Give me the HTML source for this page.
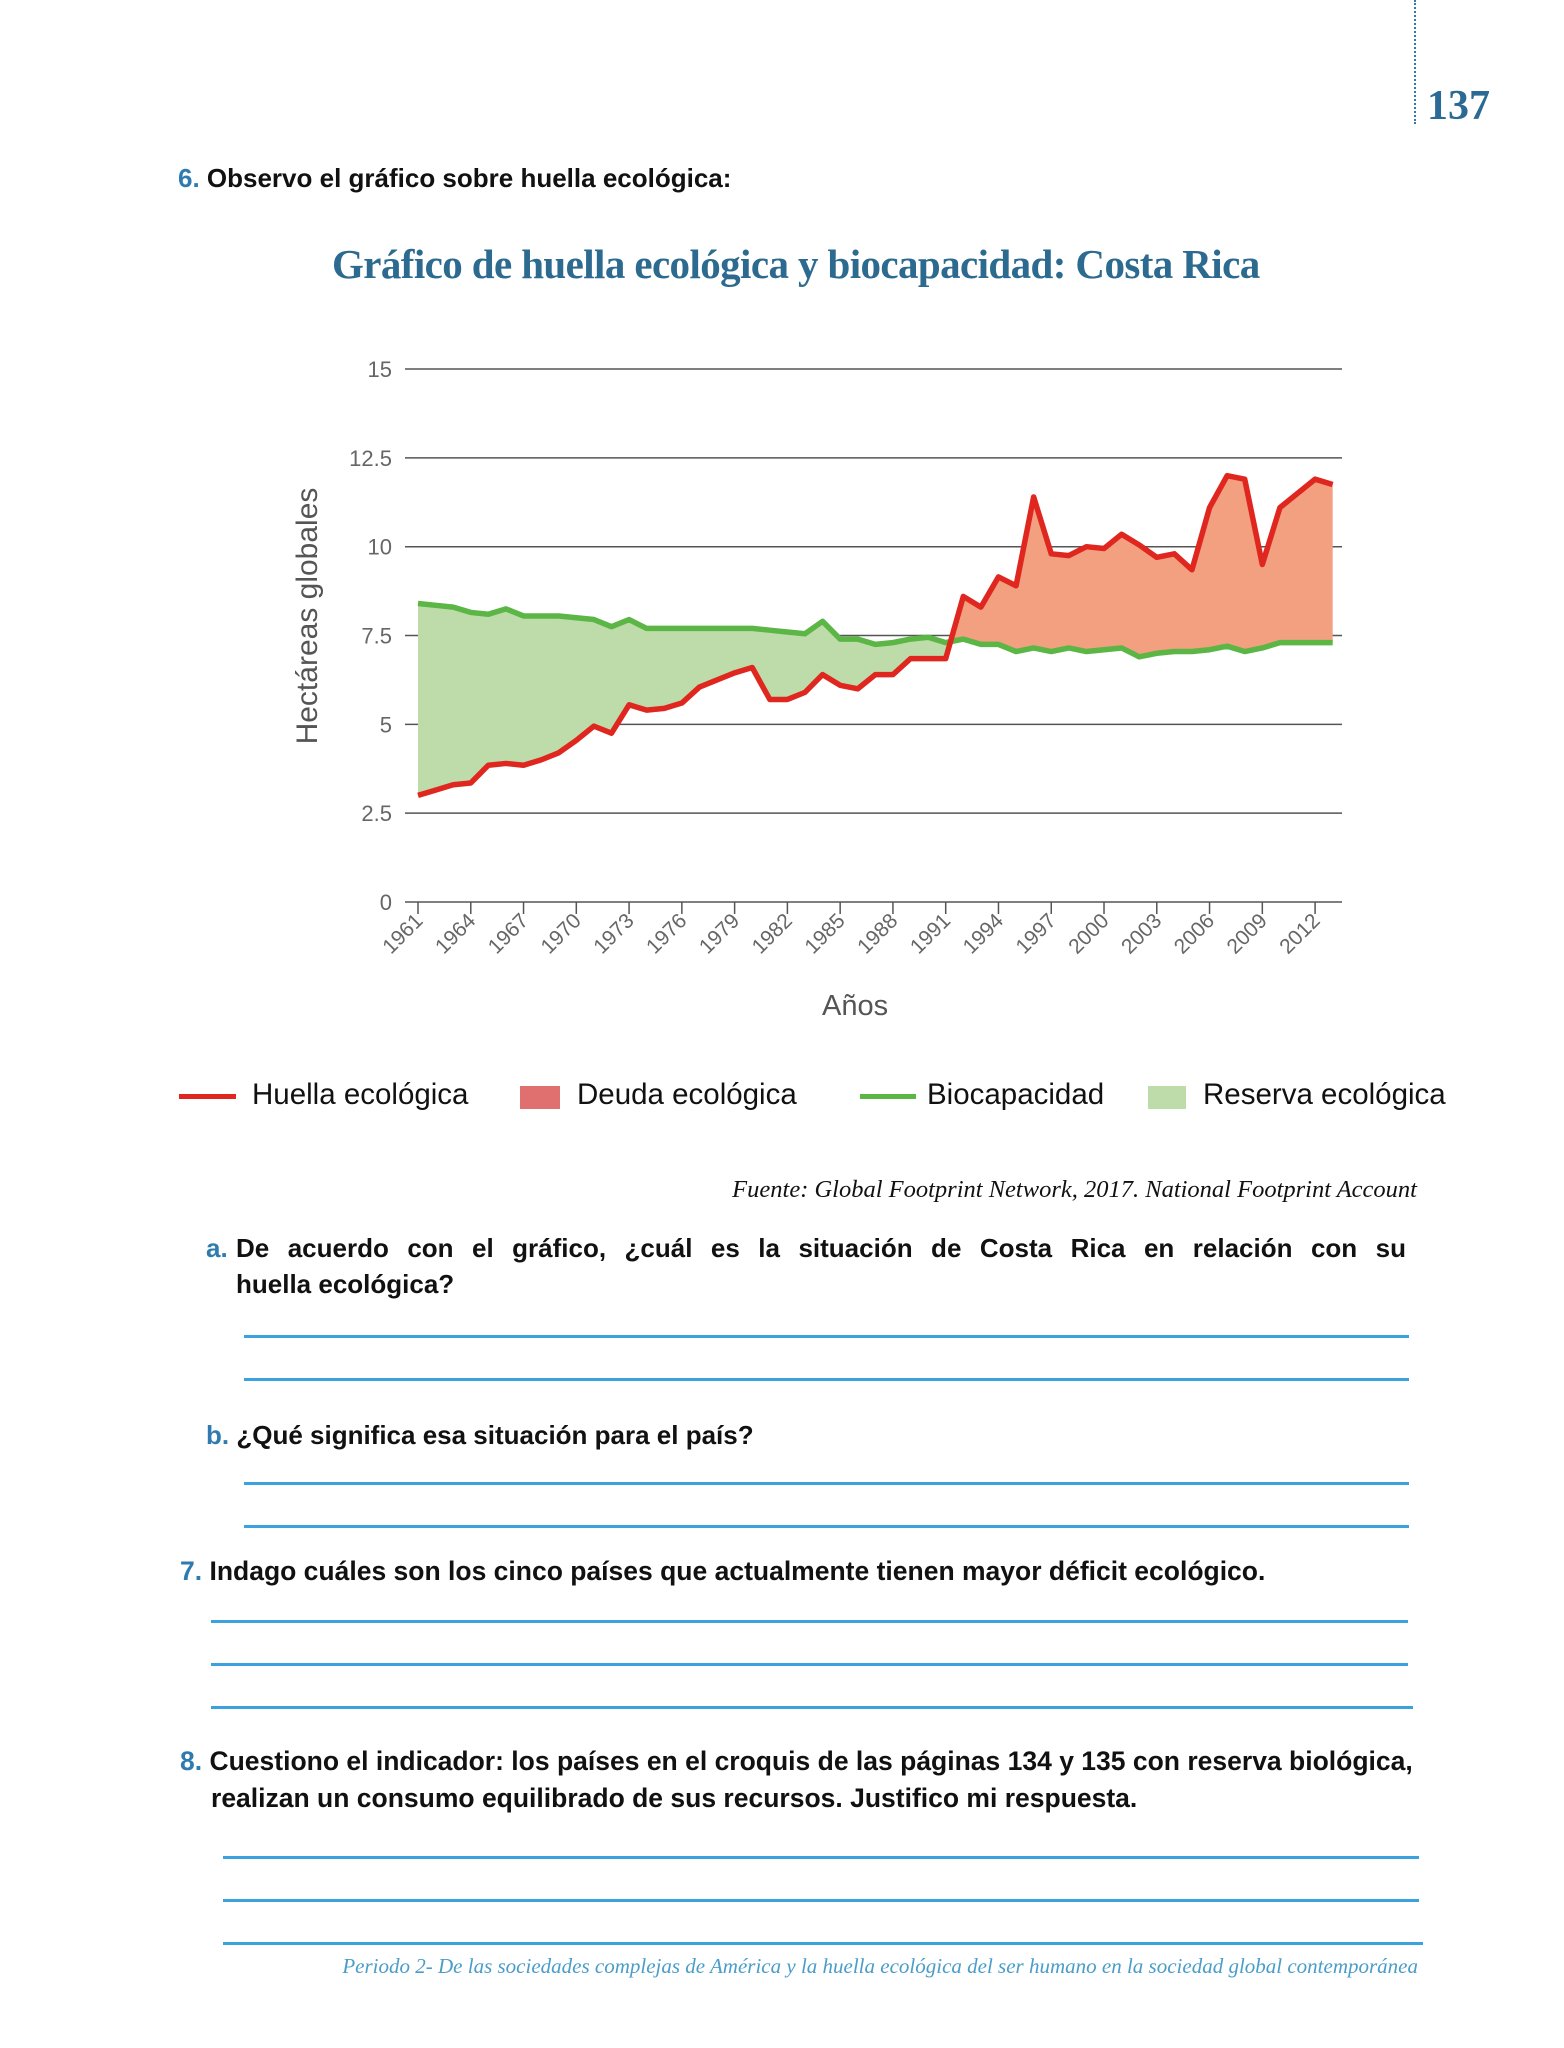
<!DOCTYPE html>
<html><head><meta charset="utf-8">
<style>
body{margin:0;background:#fff;}
#pg{position:relative;width:1564px;height:2048px;overflow:hidden;background:#fff;font-family:"Liberation Sans",sans-serif;color:#111;}
.t{position:absolute;white-space:nowrap;}
.s{font-size:26px;font-weight:bold;letter-spacing:0;}
.n{color:#2f7bb0;}
.ln{position:absolute;height:3px;background:#3ba2df;}
.serif{font-family:"Liberation Serif",serif;}
.lg{font-size:29.5px;}
</style></head><body><div id="pg">
<div style="position:absolute;left:1414px;top:0;height:124px;border-left:2px dotted #2f7bb0;"></div>
<div class="t serif" style="left:1427px;top:82px;font-size:42px;font-weight:bold;color:#2a6a94;">137</div>
<div class="t s" style="left:178px;top:163px;"><span class="n">6.</span> Observo el gráfico sobre huella ecológica:</div>
<div class="t serif" style="left:332px;top:240px;font-size:41px;color:#2d6a8f;font-weight:bold;letter-spacing:-0.6px;">Gráfico de huella ecológica y biocapacidad: Costa Rica</div>
<svg id="ch" style="position:absolute;left:0;top:0" width="1564" height="1060"></svg>
<div class="t" style="left:308px;top:616px;font-size:30px;color:#555;transform:translate(-50%,-50%) rotate(-90deg);">Hectáreas globales</div>
<div class="t" style="left:822px;top:990px;font-size:29px;color:#555;">Años</div>
<div style="position:absolute;left:179px;top:1094px;width:57px;height:5px;background:#e0271f"></div>
<div class="t lg" style="left:252px;top:1078px;">Huella ecológica</div>
<div style="position:absolute;left:520px;top:1086px;width:40px;height:23px;background:#e07070"></div>
<div class="t lg" style="left:577px;top:1078px;">Deuda ecológica</div>
<div style="position:absolute;left:860px;top:1094px;width:56px;height:5px;background:#5bb646"></div>
<div class="t lg" style="left:927px;top:1078px;">Biocapacidad</div>
<div style="position:absolute;left:1148px;top:1086px;width:38px;height:23px;background:#bddcaa"></div>
<div class="t lg" style="left:1203px;top:1078px;">Reserva ecológica</div>
<div class="t serif" style="right:147px;top:1176px;font-size:24.5px;font-style:italic;">Fuente: Global Footprint Network, 2017. National Footprint Account</div>
<div class="t s" style="left:206px;top:1233px;"><span class="n">a.</span></div>
<div class="t s" style="left:236px;top:1233px;width:1170px;text-align:justify;text-align-last:justify;">De acuerdo con el gráfico, ¿cuál es la situación de Costa Rica en relación con su</div>
<div class="t s" style="left:236px;top:1269px;">huella ecológica?</div>
<div class="ln" style="left:244px;width:1165px;top:1335px"></div>
<div class="ln" style="left:244px;width:1165px;top:1378px"></div>
<div class="t s" style="left:206px;top:1420px;"><span class="n">b.</span> ¿Qué significa esa situación para el país?</div>
<div class="ln" style="left:244px;width:1165px;top:1482px"></div>
<div class="ln" style="left:244px;width:1165px;top:1525px"></div>
<div class="t s" style="left:180px;top:1556px;font-size:26.5px;"><span class="n">7.</span> Indago cuáles son los cinco países que actualmente tienen mayor déficit ecológico.</div>
<div class="ln" style="left:211px;width:1197px;top:1620px"></div>
<div class="ln" style="left:211px;width:1197px;top:1663px"></div>
<div class="ln" style="left:211px;width:1202px;top:1706px"></div>
<div class="t s" style="left:180px;top:1746px;font-size:26.5px;"><span class="n">8.</span> Cuestiono el indicador: los países en el croquis de las páginas 134 y 135 con reserva biológica,</div>
<div class="t s" style="left:211px;top:1783px;font-size:26.5px;">realizan un consumo equilibrado de sus recursos. Justifico mi respuesta.</div>
<div class="ln" style="left:223px;width:1196px;top:1856px"></div>
<div class="ln" style="left:223px;width:1196px;top:1899px"></div>
<div class="ln" style="left:223px;width:1200px;top:1942px"></div>
<div class="t serif" style="right:146px;top:1954px;font-size:21px;font-style:italic;color:#4a9cc9;">Periodo 2- De las sociedades complejas de América y la huella ecológica del ser humano en la sociedad global contemporánea</div>
</div>
<script>
var red=[3.0,3.15,3.3,3.35,3.85,3.9,3.85,4.0,4.2,4.55,4.95,4.75,5.55,5.4,5.45,5.6,6.05,6.25,6.45,6.6,5.7,5.7,5.9,6.4,6.1,6.0,6.4,6.4,6.85,6.85,6.85,8.6,8.3,9.15,8.9,11.4,9.8,9.75,10.0,9.95,10.35,10.05,9.7,9.8,9.35,11.1,12.0,11.9,9.5,11.1,11.5,11.9,11.75];
var grn=[8.4,8.35,8.3,8.15,8.1,8.25,8.05,8.05,8.05,8.0,7.95,7.75,7.95,7.7,7.7,7.7,7.7,7.7,7.7,7.7,7.65,7.6,7.55,7.9,7.4,7.4,7.25,7.3,7.4,7.45,7.3,7.4,7.25,7.25,7.05,7.15,7.05,7.15,7.05,7.1,7.15,6.9,7.0,7.05,7.05,7.1,7.2,7.05,7.15,7.3,7.3,7.3,7.3];
function X(i){return 418+i*17.59;}function Y(v){return 902-v*35.53;}
var s='';
s+='<defs><clipPath id="cl"><rect x="0" y="0" width="'+X(30.27)+'" height="1060"/></clipPath><clipPath id="cr"><rect x="'+X(30.27)+'" y="0" width="1000" height="1060"/></clipPath></defs>';
[0,2.5,5,7.5,10,12.5,15].forEach(function(v){s+='<line x1="405" x2="1342" y1="'+Y(v)+'" y2="'+Y(v)+'" stroke="#555" stroke-width="1.5"/>';
s+='<text x="392" y="'+(Y(v)+8)+'" font-size="22" fill="#666" text-anchor="end" font-family="Liberation Sans">'+v+'</text>';});
var rp=red.map(function(v,i){return X(i)+','+Y(v)}), gp=grn.map(function(v,i){return X(i)+','+Y(v)});
var poly=rp.concat(gp.slice().reverse()).join(' ');
s+='<polygon points="'+poly+'" fill="#bddcaa" clip-path="url(#cl)"/>';
s+='<polygon points="'+poly+'" fill="#f2a080" clip-path="url(#cr)"/>';
s+='<polyline points="'+gp.join(' ')+'" fill="none" stroke="#5bb646" stroke-width="5.5" stroke-linejoin="round"/>';
s+='<polyline points="'+rp.join(' ')+'" fill="none" stroke="#e0271f" stroke-width="5.5" stroke-linejoin="round"/>';
for(var i=0;i<=51;i+=3){var x=X(i);s+='<line x1="'+x+'" x2="'+x+'" y1="902" y2="914" stroke="#555" stroke-width="1.5"/>';
s+='<text x="'+(x+6)+'" y="922" font-size="21" fill="#666" text-anchor="end" font-family="Liberation Sans" transform="rotate(-45 '+(x+6)+' 922)">'+(1961+i)+'</text>';}
document.getElementById('ch').innerHTML=s;
</script>
</body></html>
